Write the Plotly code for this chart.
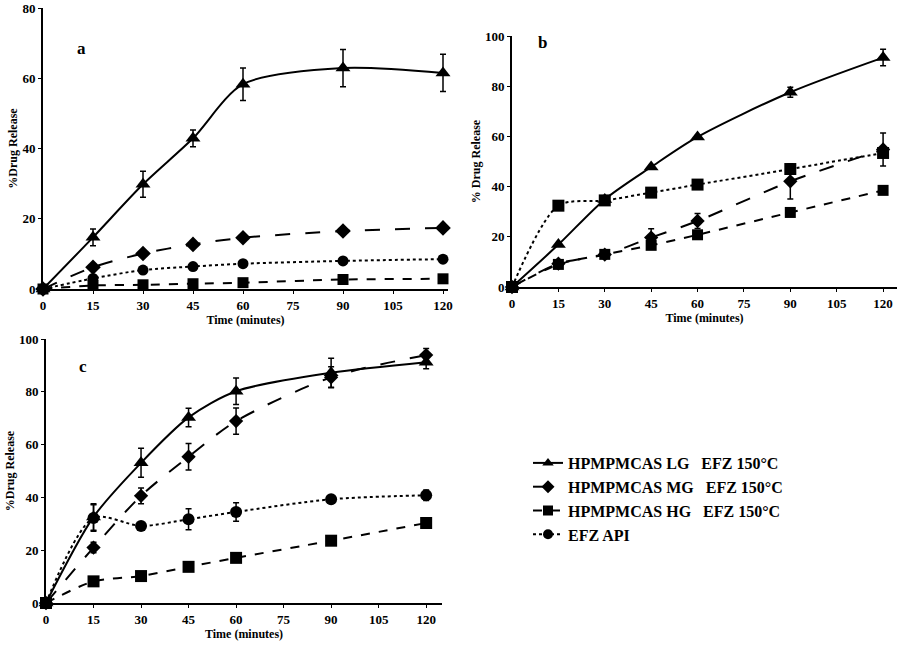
import plotly.graph_objects as go

time = [0, 15, 30, 45, 60, 90, 120]
x_ticks = [0, 15, 30, 45, 60, 75, 90, 105, 120]

# Panel a
a_lg = [0, 14.7, 29.8, 42.9, 58.3, 62.9, 61.5]
a_lg_err = [0, 2.4, 3.7, 2.4, 4.6, 5.3, 5.3]
a_mg = [0, 6.2, 10.1, 12.7, 14.6, 16.5, 17.4]
a_hg = [0, 1.0, 1.2, 1.5, 1.8, 2.7, 2.9]
a_api = [0, 3.0, 5.4, 6.4, 7.2, 8.0, 8.5]

# Panel b
b_lg = [0, 16.9, 34.9, 47.8, 59.8, 77.6, 91.4]
b_lg_err = [0, 0, 0, 0, 0, 2.0, 3.3]
b_mg = [0, 9.3, 12.9, 19.7, 26.3, 42.1, 54.8]
b_mg_err = [0, 0, 0, 3.5, 3.0, 7.0, 6.6]
b_hg = [0, 9.0, 13.0, 16.6, 20.8, 29.7, 38.5]
b_api = [0, 32.4, 34.5, 37.6, 40.8, 47.0, 53.4]

# Panel c
c_lg = [0, 32.6, 53.1, 70.3, 80.2, 87.2, 91.2]
c_lg_err = [0, 5.0, 5.5, 3.5, 5.0, 5.5, 2.5]
c_mg = [0, 21.0, 40.6, 55.4, 68.9, 85.5, 93.9]
c_mg_err = [0, 2.0, 3.0, 5.0, 5.0, 4.0, 2.5]
c_hg = [0, 8.2, 10.2, 13.7, 17.1, 23.6, 30.3]
c_api = [0, 32.2, 29.2, 31.7, 34.5, 39.3, 40.8]
c_api_err = [0, 5.0, 0, 4.0, 3.5, 0, 2.0]

names = ["HPMPMCAS LG   EFZ 150°C", "HPMPMCAS MG   EFZ 150°C",
         "HPMPMCAS HG   EFZ 150°C", "EFZ API"]

FONT = "Liberation Serif"
fig = go.Figure()

def add(xa, ya, y, name, symbol, dash, size, err=None, legend=False, shape="spline"):
    kw = {}
    if err is not None:
        kw["error_y"] = dict(type="data", array=err, visible=True, color="black",
                             thickness=1.5, width=3)
    fig.add_trace(go.Scatter(
        x=time, y=y, xaxis=xa, yaxis=ya, name=name, mode="lines+markers",
        line=dict(color="black", width=2, dash=dash, shape=shape, smoothing=0.8),
        marker=dict(symbol=symbol, size=size, color="black"),
        showlegend=legend, cliponaxis=False, **kw))

# a
add("x", "y", a_api, names[3], "circle", "dot", 11)
add("x", "y", a_hg, names[2], "square", "dash", 11)
add("x", "y", a_mg, names[1], "diamond", "longdash", 12)
add("x", "y", a_lg, names[0], "triangle-up", "solid", 13, err=a_lg_err)
# b
add("x2", "y2", b_api, names[3], "square", "dot", 12)
add("x2", "y2", b_hg, names[2], "square", "dash", 11)
add("x2", "y2", b_mg, names[1], "diamond", "longdash", 11, err=b_mg_err)
add("x2", "y2", b_lg, names[0], "triangle-up", "solid", 13, err=b_lg_err)
# c
add("x3", "y3", c_api, names[3], "circle", "dot", 12, err=c_api_err)
add("x3", "y3", c_hg, names[2], "square", "dash", 12)
add("x3", "y3", c_mg, names[1], "diamond", "longdash", 11, err=c_mg_err)
add("x3", "y3", c_lg, names[0], "triangle-up", "solid", 13, err=c_lg_err)

# legend entries (order LG, MG, HG, API)
for nm, sym, dash in [(names[0], "triangle-up", "solid"), (names[1], "diamond", "longdash"),
                      (names[2], "square", "dash"), (names[3], "circle", "dot")]:
    fig.add_trace(go.Scatter(x=[None], y=[None], xaxis="x3", yaxis="y3", name=nm,
                             mode="lines+markers",
                             line=dict(color="black", width=2, dash=dash),
                             marker=dict(symbol=sym, size=10, color="black"),
                             showlegend=True))

W, H = 901, 645
def px(v): return v / W
def py(v): return (H - v) / H

tickfont = dict(family=FONT, size=13, color="black", weight="bold")
titlefont = dict(family=FONT, size=12, color="black", weight="bold")

def xaxis(d0, d1, rng, anchor):
    return dict(domain=[px(d0), px(d1)], range=rng, anchor=anchor, tickvals=x_ticks,
                showgrid=False, zeroline=False, showline=True, linecolor="black",
                linewidth=2, ticks="outside", ticklen=3, tickcolor="black",
                automargin=False,
                tickfont=tickfont, title=dict(text="Time (minutes)", font=titlefont, standoff=4))

def yaxis(d0, d1, rng, dtick, anchor, title):
    return dict(domain=[py(d0), py(d1)], range=rng, anchor=anchor, dtick=dtick,
                showgrid=False, zeroline=False, showline=True, linecolor="black",
                linewidth=2, ticks="outside", ticklen=3, tickcolor="black",
                automargin=False,
                tickfont=tickfont, title=dict(text=title, font=titlefont, standoff=2))

fig.update_layout(
    width=W, height=H, margin=dict(l=0, r=0, t=0, b=0, autoexpand=False),
    paper_bgcolor="white", plot_bgcolor="white",
    font=dict(family=FONT, color="black"),
    xaxis=xaxis(43, 448, [0, 121.5], "y"),
    yaxis=yaxis(289, 8, [0, 80], 20, "x", "%Drug Release"),
    xaxis2=xaxis(512, 897, [0, 124.5], "y2"),
    yaxis2=yaxis(287, 36, [0, 100], 20, "x2", "% Drug Release"),
    xaxis3=xaxis(46, 442, [0, 125], "y3"),
    yaxis3=yaxis(603, 339, [0, 100], 20, "x3", "%Drug Release"),
    legend=dict(x=px(528), y=py(446), xanchor="left", yanchor="top",
                font=dict(family=FONT, size=16, color="black", weight="bold"),
                itemwidth=30, tracegroupgap=0, bgcolor="rgba(0,0,0,0)"),
    annotations=[
        dict(text="a", x=px(75), y=py(37), xref="paper", yref="paper", showarrow=False,
             font=dict(family=FONT, size=17, color="black", weight="bold")),
        dict(text="b", x=px(542), y=py(31), xref="paper", yref="paper", showarrow=False,
             font=dict(family=FONT, size=17, color="black", weight="bold")),
        dict(text="c", x=px(77), y=py(366), xref="paper", yref="paper", showarrow=False,
             font=dict(family=FONT, size=17, color="black", weight="bold")),
    ],
)

fig.write_html("out.html", config={"displayModeBar": False},
               post_script="document.body.style.margin='0';document.body.style.overflow='hidden';")
